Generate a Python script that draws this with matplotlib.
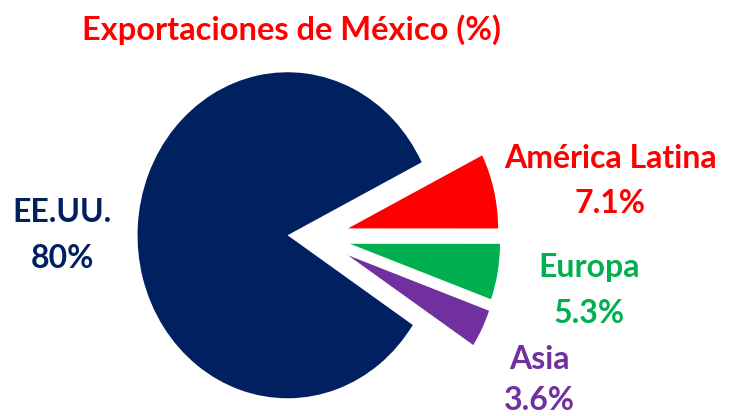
import matplotlib
matplotlib.use("Agg")
import matplotlib.pyplot as plt

# Data
regions = ["Asia", "Europa", "América Latina", "EE.UU."]
values = [3.6, 5.3, 7.1, 80]
value_labels = ["3.6%", "5.3%", "7.1%", "80%"]
title = "Exportaciones de México (%)"

colors = ["#7030A0", "#00B050", "#FF0000", "#002060"]
explode = [0.25, 0.24, 0.23, 0.18]

W, H = 730, 416
fig = plt.figure(figsize=(W / 100, H / 100), dpi=100)
ax = fig.add_axes([0, 0, 1, 1])

ax.pie(values, colors=colors, explode=explode, startangle=-33.4,
       counterclock=True, radius=1.0, center=(0, 0),
       wedgeprops=dict(linewidth=0))

# pixel scales (x: 150 px/unit, y: 163 px/unit), pie centre at px (314.5, 237)
cx, cy = 314.5, 237
sx, sy = 150.0, 163.0
ax.set_aspect("auto")
ax.set_xlim(-cx / sx, (W - cx) / sx)
ax.set_ylim(-(H - cy) / sy, cy / sy)
ax.axis("off")

font = "Lato"
fs = 23


def ftext(px, py, s, color, size=fs):
    fig.text(px / W, 1 - py / H, s, ha="center", va="baseline",
             color=color, fontsize=size, fontweight="bold", family=font)


ftext(292, 40, title, "#FF0000", size=23.5)

# label positions in pixels (centre x, baseline y) for name and value
name_pos = {"EE.UU.": (62, 222), "América Latina": (610, 168),
            "Europa": (589, 277), "Asia": (539, 369)}
val_pos = {"EE.UU.": (62, 268), "América Latina": (610, 213),
           "Europa": (589, 323), "Asia": (539, 410)}

for r, v, c in zip(regions, value_labels, colors):
    ftext(*name_pos[r], r, c)
    ftext(*val_pos[r], v, c)

fig.savefig("out.png", dpi=100)
